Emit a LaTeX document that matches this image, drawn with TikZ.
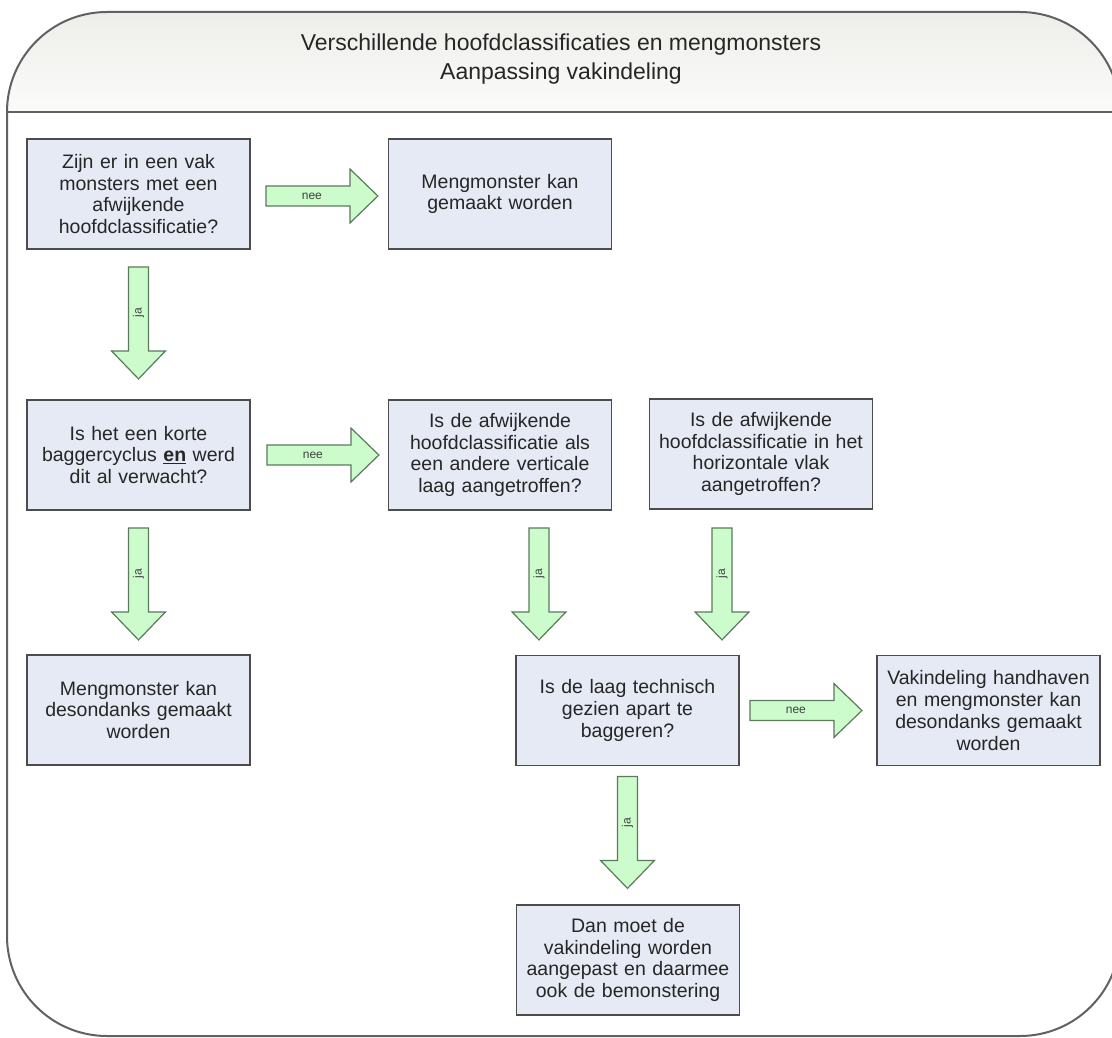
\documentclass[tikz,border=0pt]{standalone}
\usepackage{fontspec}
\setmainfont{Liberation Sans}
\usetikzlibrary{calc}
\definecolor{box blue}{rgb}{0.902, 0.918, 0.961}
\definecolor{box edge}{rgb}{0.30, 0.30, 0.30}
\definecolor{arrow green}{rgb}{0.800, 0.984, 0.800}
\definecolor{arrow edge}{rgb}{0.36, 0.48, 0.36}
\definecolor{frame gray}{rgb}{0.38, 0.38, 0.38}
\definecolor{header top}{rgb}{0.925, 0.925, 0.905}

\tikzset{
	vak/.style={draw=box edge, line width=1.8pt, fill=box blue, text width=220pt, align=center,
		minimum width=223pt, minimum height=110pt, inner sep=0pt,
		font=\fontsize{19.5}{21.8}\selectfont, text=black!85},
	pijlvorm/.style={draw=arrow edge, line width=1.2pt, fill=arrow green, line join=miter},
	pijltekst/.style={font=\fontsize{12}{14}\selectfont, text=black!75, inner sep=0pt},
	titel/.style={align=center, font=\fontsize{23}{29}\selectfont, text=black!85}
}

% block arrow: start, direction, label, label rotation
\newcommand{\blokpijl}[4]{%
	\begin{scope}[shift={#1}, rotate=#2]
		\draw[pijlvorm] (0,-10) -- (84,-10) -- (84,-27) -- (112,0) -- (84,27) -- (84,10) -- (0,10) -- cycle;
		\node[pijltekst, rotate=#4] at (46,0) {#3};
	\end{scope}}

\begin{document}
\begin{tikzpicture}[x=1pt, y=1pt]
			\useasboundingbox (0,0) rectangle (1112,-1038);
			% header band
			\begin{scope}
				\clip[rounded corners=100pt] (7,-12) rectangle (1120,-1036);
				\shade[top color=header top, bottom color=white!97!gray] (0,0) rectangle (1130,-112);
			\end{scope}
			% outline
			\draw[frame gray, line width=2pt, rounded corners=100pt] (7,-12) rectangle (1120,-1036);
			\draw[frame gray, line width=2.5pt] (7,-112) -- (1120,-112);
			\node[titel] (titel) at (561,-59) {Verschillende hoofdclassificaties en mengmonsters\\Aanpassing vakindeling};
			% boxes
			\node[vak] (vraag1) at (138.5,-194) {Zijn er in een vak\\monsters met een\\afwijkende\\hoofdclassificatie?};
			\node[vak] (meng1) at (500,-194) {Mengmonster kan\\gemaakt worden};
			\node[vak] (vraag2) at (138.5,-455) {Is het een korte\\baggercyclus \textbf{\underline{en}} werd\\dit al verwacht?};
			\node[vak] (vraag3) at (500,-455) {Is de afwijkende\\hoofdclassificatie als\\een andere verticale\\laag aangetroffen?};
			\node[vak] (vraag4) at (761,-454) {Is de afwijkende\\hoofdclassificatie in het\\horizontale vlak\\aangetroffen?};
			\node[vak] (meng2) at (138.5,-710) {Mengmonster kan\\desondanks gemaakt\\worden};
			\node[vak] (vraag5) at (627.5,-710.5) {Is de laag technisch\\gezien apart te\\baggeren?};
			\node[vak] (meng3) at (988.5,-710.5) {Vakindeling handhaven\\en mengmonster kan\\desondanks gemaakt\\worden};
			\node[vak] (aanpas) at (628,-960) {Dan moet de\\vakindeling worden\\aangepast en daarmee\\ook de bemonstering};
			% arrows
			\blokpijl{($(vraag1.east)+(15,-2)$)}{0}{nee}{0}
			\blokpijl{($(vraag1.south)+(0,-17)$)}{-90}{ja}{90}
			\blokpijl{($(vraag2.east)+(16,0)$)}{0}{nee}{0}
			\blokpijl{($(vraag2.south)+(0,-17)$)}{-90}{ja}{90}
			\blokpijl{($(vraag3.south)+(39,-17)$)}{-90}{ja}{90}
			\blokpijl{($(vraag4.south)+(-39,-18)$)}{-90}{ja}{90}
			\blokpijl{($(vraag5.east)+(10,0)$)}{0}{nee}{0}
			\blokpijl{($(vraag5.south)+(0,-10)$)}{-90}{ja}{90}
		\end{tikzpicture}
\end{document}
